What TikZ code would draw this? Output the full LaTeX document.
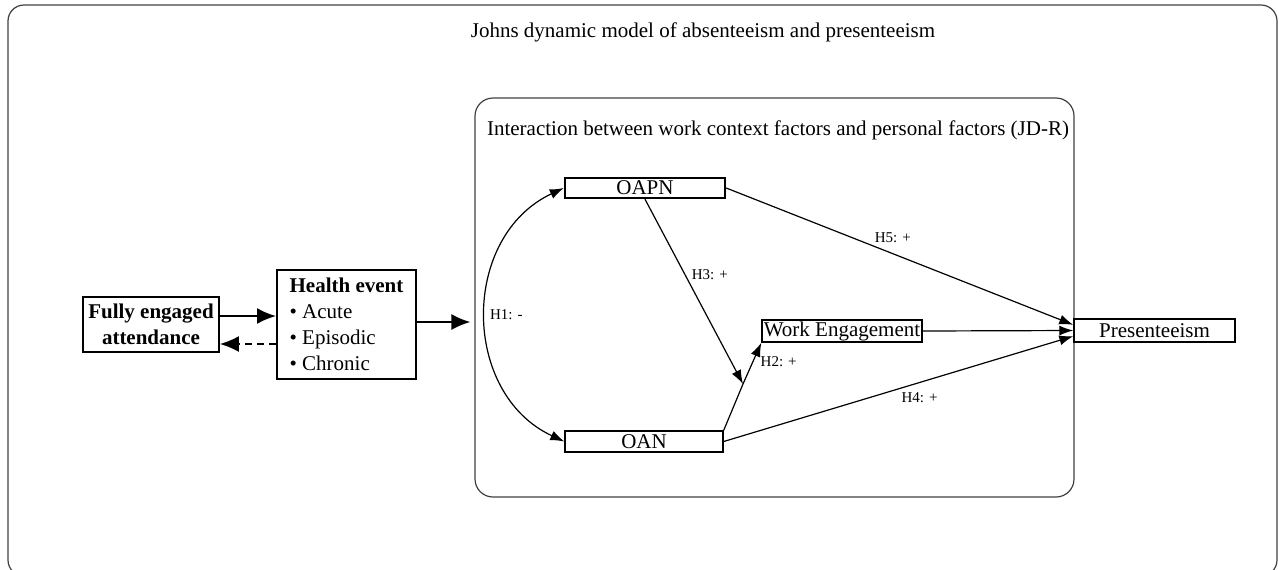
\documentclass[tikz,border=0pt]{standalone}
\usepackage{fontspec}
\setmainfont{Liberation Serif}
\usetikzlibrary{arrows.meta}

\begin{document}
\begin{tikzpicture}[x=0.5pt, y=-0.5pt, font=\fontsize{10.5}{13}\selectfont]
    % Define styles for blocks and arrows
    \tikzstyle{frame} = [draw=black!75, line width=0.6pt, rounded corners=8pt]
    \tikzstyle{sideblock} = [rectangle, draw, line width=0.9pt, inner sep=2pt]
    \tikzstyle{varblock} = [rectangle, draw, line width=0.7pt, inner sep=0pt, minimum width=80pt, minimum height=10.5pt]
    \tikzstyle{arrow} = [line width=0.6pt, -{Latex[length=7pt, width=5pt]}]
    \tikzstyle{twoway} = [line width=0.6pt, {Latex[length=7pt, width=5pt]}-{Latex[length=7pt, width=5pt]}]
    \tikzstyle{bigarrow} = [line width=0.9pt, -{Latex[length=9.5pt, width=8pt]}]
    \tikzstyle{hyp} = [font=\fontsize{7.5}{9}\selectfont, inner sep=1.5pt]

    \useasboundingbox (0,0) rectangle (1279,569);

    % Frames and titles
    \draw [frame] (8,5) rectangle (1277,576);
    \node (title) at (703,32) {Johns dynamic model of absenteeism and presenteeism};
    \node (jdr) [frame, minimum width=299.5pt, minimum height=199.5pt, rounded corners=9pt] at (774.5,297.5) {};
    \node (jdrtitle) at (778,130) {Interaction between work context factors and personal factors (JD-R)};

    % Nodes
    \node (fea) [sideblock, minimum width=68pt, minimum height=27.5pt, align=center, font=\fontsize{10.5}{13}\selectfont\bfseries] at (151,324.5) {Fully engaged\\attendance};
    \node (he) [sideblock, minimum width=69.5pt, minimum height=54.5pt, align=left] at (346.5,324.5) {\textbf{Health event}\\• Acute\\• Episodic\\• Chronic};

    \node (oapn) [varblock, line width=1.2pt, minimum height=10pt] at (645,188) {OAPN};
    \node (oan) [varblock, minimum width=79pt] at (644,441.5) {OAN};
    \node (we) [varblock, minimum height=11pt] at (842,331) {Work Engagement};
    \node (pres) [varblock, minimum width=80.5pt, minimum height=11.5pt] at (1154.5,330.5) {Presenteeism};
    \coordinate (hub) at (743,384);

    % Arrows
    \draw [bigarrow, line width=1.1pt] ([yshift=4.25pt]fea.east) -- ([yshift=4.25pt]he.west);
    \draw [bigarrow, dash pattern=on 3.5pt off 2.5pt] ([yshift=-9.75pt]he.west) -- ([yshift=-9.75pt]fea.east);
    \draw [bigarrow, shorten >=2pt] ([yshift=1.25pt]he.east) -- ([yshift=1.25pt]he.east -| jdr.west);

    \draw [twoway] (oapn.west) to[bend right=65, looseness=1.15] node[hyp, right] {H1: -} (oan.west);
    \draw [arrow] (oapn.south) -- node[hyp, pos=0.41, right, xshift=1.5pt] {H3: +} (hub);
    \draw [arrow] (oan.north east) -- (hub) -- node[hyp, pos=0.55, right, xshift=2pt] {H2: +} (we.south west);
    \draw [arrow] (oapn.east) -- node[hyp, pos=0.48, above, yshift=3.5pt] {H5: +} (pres.176);
    \draw [arrow] (we.east) -- (pres.west);
    \draw [arrow] (oan.east) -- node[hyp, pos=0.56, below, yshift=-3pt] {H4: +} (pres.184);

\end{tikzpicture}
\end{document}
